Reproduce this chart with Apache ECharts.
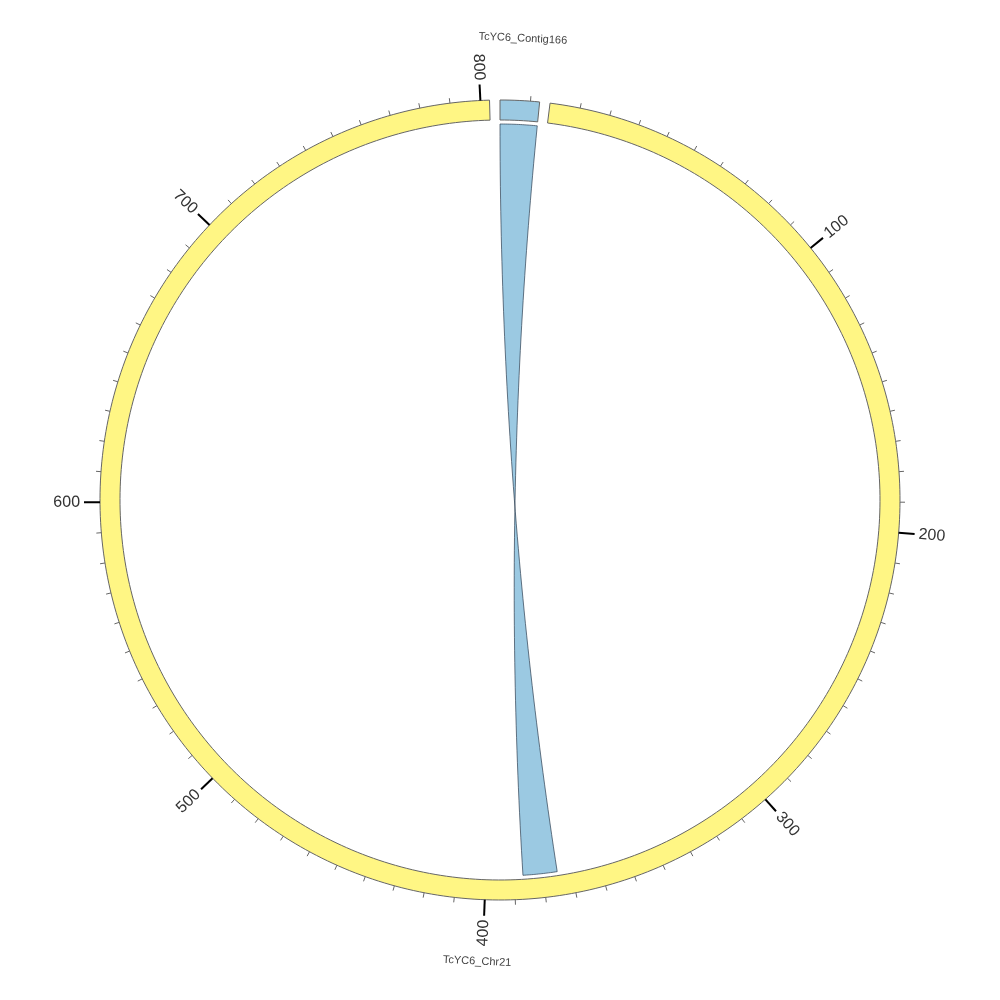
<!DOCTYPE html>
<html>
<head>
<meta charset="utf-8">
<script src="https://cdn.jsdelivr.net/npm/echarts/dist/echarts.min.js"></script>
<style>html,body{margin:0;padding:0;background:#fff}#c{width:1000px;height:1000px}</style>
</head>
<body>
<div id="c"></div>
<script>
// ---- data ----
const chromNames = ['TcYC6_Contig166', 'TcYC6_Chr21'];
const chromLengths = [13, 803];
const chromColors = ['#9bc9e2', '#fff684'];
const gapSize = 3.43;
const linkSource = ['TcYC6_Contig166', 0, 13];
const linkTarget = ['TcYC6_Chr21', 375, 387];
const linkInverted = true;
const minorTickStep = 10;
const majorTickStep = 100;

// ---- layout helpers ----
const R_OUT = 400, R_IN = 380, R_LINK = 376;
const offsets = [];
let acc = 0;
chromLengths.forEach(len => { offsets.push(acc); acc += len + gapSize; });
const total = acc;
function absPos(name, p) { return offsets[chromNames.indexOf(name)] + p; }

const ticks = [];
chromLengths.forEach((len, i) => {
  for (let p = minorTickStep; p <= len; p += minorTickStep) {
    ticks.push({ pos: offsets[i] + p, value: p, major: p % majorTickStep === 0 });
  }
});

function arcPts(api, a0, a1, r, n) {
  const pts = [];
  for (let k = 0; k <= n; k++) pts.push(api.coord([r, a0 + (a1 - a0) * k / n]));
  return pts;
}
function bezPts(p0, c, p2, n) {
  const pts = [];
  for (let k = 1; k < n; k++) {
    const t = k / n, u = 1 - t;
    pts.push([u*u*p0[0] + 2*u*t*c[0] + t*t*p2[0], u*u*p0[1] + 2*u*t*c[1] + t*t*p2[1]]);
  }
  return pts;
}
function deg(a) { return a / total * 360; }

const chart = echarts.init(document.getElementById('c'), null, { renderer: 'canvas' });
chart.setOption({
  animation: false,
  backgroundColor: '#fff',
  polar: { center: ['50%', '50%'], radius: [0, R_OUT] },
  angleAxis: { type: 'value', min: 0, max: total, startAngle: 90, clockwise: true, show: false },
  radiusAxis: { type: 'value', min: 0, max: R_OUT, show: false },
  series: [
    { // ribbon
      type: 'custom', coordinateSystem: 'polar', silent: true, z: 1,
      data: [[0, 0]],
      renderItem: function (params, api) {
        const a0 = absPos(linkSource[0], linkSource[1]);
        const a1 = absPos(linkSource[0], linkSource[2]);
        const b0 = absPos(linkTarget[0], linkTarget[1]);
        const b1 = absPos(linkTarget[0], linkTarget[2]);
        const c = api.coord([0, 0]);
        let pts = arcPts(api, a0, a1, R_LINK, 20);
        let tStart = linkInverted ? b1 : b0, tEnd = linkInverted ? b0 : b1;
        const pa1 = api.coord([R_LINK, a1]);
        const pt0 = api.coord([R_LINK, tStart]);
        pts = pts.concat(bezPts(pa1, c, pt0, 60));
        pts = pts.concat(arcPts(api, tStart, tEnd, R_LINK, 20));
        const pt1 = api.coord([R_LINK, tEnd]);
        const pa0 = api.coord([R_LINK, a0]);
        pts = pts.concat(bezPts(pt1, c, pa0, 60));
        return { type: 'polygon', shape: { points: pts },
          style: { fill: chromColors[0], stroke: '#2c3e50', lineWidth: 0.7 } };
      }
    },
    { // ideograms
      type: 'custom', coordinateSystem: 'polar', silent: true, z: 2,
      data: chromNames.map(() => [0, 0]),
      renderItem: function (params, api) {
        const i = params.dataIndex;
        const s = offsets[i], e = offsets[i] + chromLengths[i];
        const n = Math.max(8, Math.ceil(chromLengths[i] / 2));
        const pts = arcPts(api, s, e, R_OUT, n).concat(arcPts(api, e, s, R_IN, n));
        const m = s + chromLengths[i] / 2;
        const th = deg(m);
        const rot = (th > 90 && th < 270) ? -(th - 180) : -th;
        const lp = api.coord([462, m]);
        return { type: 'group', children: [
          { type: 'polygon', shape: { points: pts },
            style: { fill: chromColors[i], stroke: '#666', lineWidth: 1 } },
          { type: 'text', x: lp[0], y: lp[1], rotation: rot * Math.PI / 180,
            style: { text: chromNames[i], fontSize: 11, fontFamily: 'Liberation Sans, Arial, sans-serif',
              fill: '#444', align: 'center', verticalAlign: 'middle' } }
        ] };
      }
    },
    { // ticks and labels
      type: 'custom', coordinateSystem: 'polar', silent: true, z: 3,
      data: ticks.map(() => [0, 0]),
      renderItem: function (params, api) {
        const t = ticks[params.dataIndex];
        const p0 = api.coord([R_OUT, t.pos]);
        const p1 = api.coord([R_OUT + (t.major ? 16 : 5), t.pos]);
        const children = [{ type: 'line', shape: { x1: p0[0], y1: p0[1], x2: p1[0], y2: p1[1] },
          style: { stroke: t.major ? '#000' : '#666', lineWidth: t.major ? 2 : 1 } }];
        if (t.major) {
          const th = deg(t.pos);
          const lp = api.coord([R_OUT + 20, t.pos]);
          const right = th < 180;
          const rot = right ? -(th - 90) : -(th - 270);
          children.push({ type: 'text', x: lp[0], y: lp[1], rotation: rot * Math.PI / 180,
            style: { text: String(t.value), fontSize: 16, fontFamily: 'Liberation Sans, Arial, sans-serif',
              fill: '#333', align: right ? 'left' : 'right', verticalAlign: 'middle' } });
        }
        return { type: 'group', children: children };
      }
    }
  ]
});
</script>
</body>
</html>
